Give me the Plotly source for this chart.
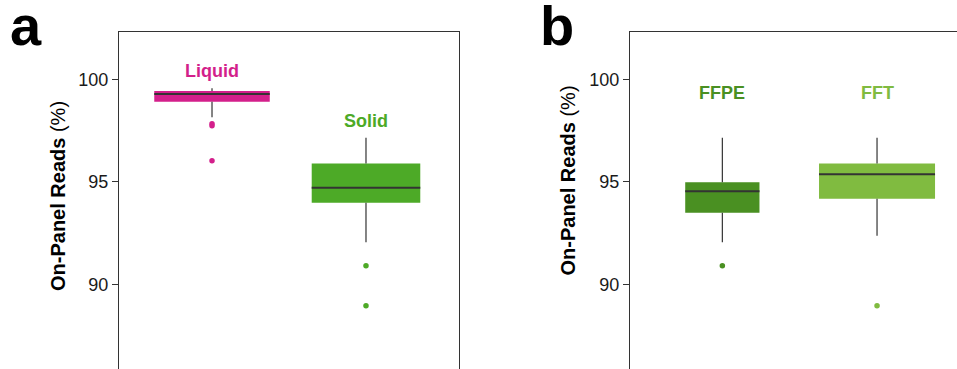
import plotly.graph_objects as go

# ---------------- data ----------------
groups_a = ["Liquid", "Solid"]
q1_a = [98.91, 93.98]
median_a = [99.28, 94.71]
q3_a = [99.43, 95.90]
lower_a = [98.15, 92.05]
upper_a = [99.56, 97.15]
outliers_a = [[97.84, 97.74, 96.03], [90.91, 88.96]]

groups_b = ["FFPE", "FFT"]
q1_b = [93.49, 94.18]
median_b = [94.54, 95.37]
q3_b = [94.98, 95.90]
lower_b = [92.05, 92.37]
upper_b = [97.15, 97.15]
outliers_b = [[90.91], [88.96]]

y_ticks = [90, 95, 100]

# ---------------- style ----------------
colors_a = ["#D31F8B", "#4DAA27"]
colors_b = ["#4A9022", "#80BB40"]
widths_a = [0.75, 0.705]
widths_b = [0.48, 0.75]
FONT = "Liberation Sans, Arial, Helvetica, sans-serif"
DARK = "#333333"

fig = go.Figure()


def add_panel(groups, q1, med, q3, lo, up, outs, colors, widths, xa, ya):
    for i, g in enumerate(groups):
        fig.add_trace(go.Box(
            x=[i], q1=[q1[i]], median=[med[i]], q3=[q3[i]],
            lowerfence=[lo[i]], upperfence=[up[i]],
            width=widths[i], fillcolor=colors[i],
            line=dict(width=0, color=colors[i]), whiskerwidth=0,
            boxpoints=False, showlegend=False, name=g,
            xaxis=xa, yaxis=ya, hoverinfo="skip"))
        # whiskers
        fig.add_trace(go.Scatter(
            x=[i, i, None, i, i], y=[up[i], q3[i], None, q1[i], lo[i]],
            mode="lines", line=dict(color=DARK, width=1.2),
            showlegend=False, xaxis=xa, yaxis=ya, hoverinfo="skip"))
        # median
        fig.add_trace(go.Scatter(
            x=[i - widths[i] / 2, i + widths[i] / 2], y=[med[i], med[i]],
            mode="lines", line=dict(color=DARK, width=2),
            showlegend=False, xaxis=xa, yaxis=ya, hoverinfo="skip"))
        # outliers
        fig.add_trace(go.Scatter(
            x=[i] * len(outs[i]), y=outs[i], mode="markers",
            marker=dict(color=colors[i], size=5.5, line=dict(width=0)),
            showlegend=False, xaxis=xa, yaxis=ya, hoverinfo="skip"))


add_panel(groups_a, q1_a, median_a, q3_a, lower_a, upper_a, outliers_a,
          colors_a, widths_a, "x", "y")
add_panel(groups_b, q1_b, median_b, q3_b, lower_b, upper_b, outliers_b,
          colors_b, widths_b, "x2", "y2")

W, H = 957, 369
top_px = 32
y_range = [85.87, 102.31]

xcommon = dict(side="top", showline=True, linecolor=DARK, linewidth=1.2,
               showticklabels=False, ticks="", showgrid=False, zeroline=False,
               fixedrange=True)
ycommon = dict(range=y_range, tickvals=y_ticks, ticks="outside", ticklen=6,
               tickcolor=DARK, tickwidth=1, showline=True, linecolor=DARK,
               linewidth=1.2, showgrid=False, zeroline=False,
               tickfont=dict(family=FONT, size=18, color="#1a1a1a"),
               domain=[0, 1 - top_px / H])

fig.update_layout(
    width=W, height=H,
    margin=dict(l=0, r=0, t=0, b=0),
    paper_bgcolor="white", plot_bgcolor="white",
    font=dict(family=FONT),
    xaxis=dict(domain=[119 / W, 459 / W], range=[-0.604, 1.604], **xcommon),
    yaxis=dict(anchor="x", mirror=True, **ycommon),
    xaxis2=dict(domain=[630 / W, 1.0], range=[-0.597, 1.517], anchor="y2", **xcommon),
    yaxis2=dict(anchor="x2", **ycommon),
)

# group labels
label_y_a = [u + 0.84 for u in upper_a]
label_y_b = [99.32, 99.32]
for i, g in enumerate(groups_a):
    fig.add_annotation(x=i, y=label_y_a[i], xref="x", yref="y", text="<b>%s</b>" % g,
                       showarrow=False, font=dict(family=FONT, size=18, color=colors_a[i]),
                       yanchor="middle")
for i, g in enumerate(groups_b):
    fig.add_annotation(x=i, y=label_y_b[i], xref="x2", yref="y2", text="<b>%s</b>" % g,
                       showarrow=False, font=dict(family=FONT, size=18, color=colors_b[i]),
                       yanchor="middle")

# axis titles
title_text = "<b>On-Panel Reads</b> (%)"
fig.add_annotation(x=58 / W, y=1 - 196 / H, xref="paper", yref="paper", text=title_text,
                   textangle=-90, showarrow=False, xanchor="center", yanchor="middle",
                   font=dict(family=FONT, size=20, color="black"))
fig.add_annotation(x=567.5 / W, y=1 - 181 / H, xref="paper", yref="paper", text=title_text,
                   textangle=-90, showarrow=False, xanchor="center", yanchor="middle",
                   font=dict(family=FONT, size=20, color="black"))

# panel letters
fig.add_annotation(x=8 / W, y=1 - 25 / H, xref="paper", yref="paper", text="<b>a</b>",
                   showarrow=False, xanchor="left", yanchor="middle",
                   font=dict(family=FONT, size=56, color="black"))
fig.add_annotation(x=538 / W, y=1 - 25 / H, xref="paper", yref="paper", text="<b>b</b>",
                   showarrow=False, xanchor="left", yanchor="middle",
                   font=dict(family=FONT, size=56, color="black"))

fig.write_html("out.html", config={"displayModeBar": False},
               post_script="document.body.style.margin='0';document.body.style.overflow='hidden';")
